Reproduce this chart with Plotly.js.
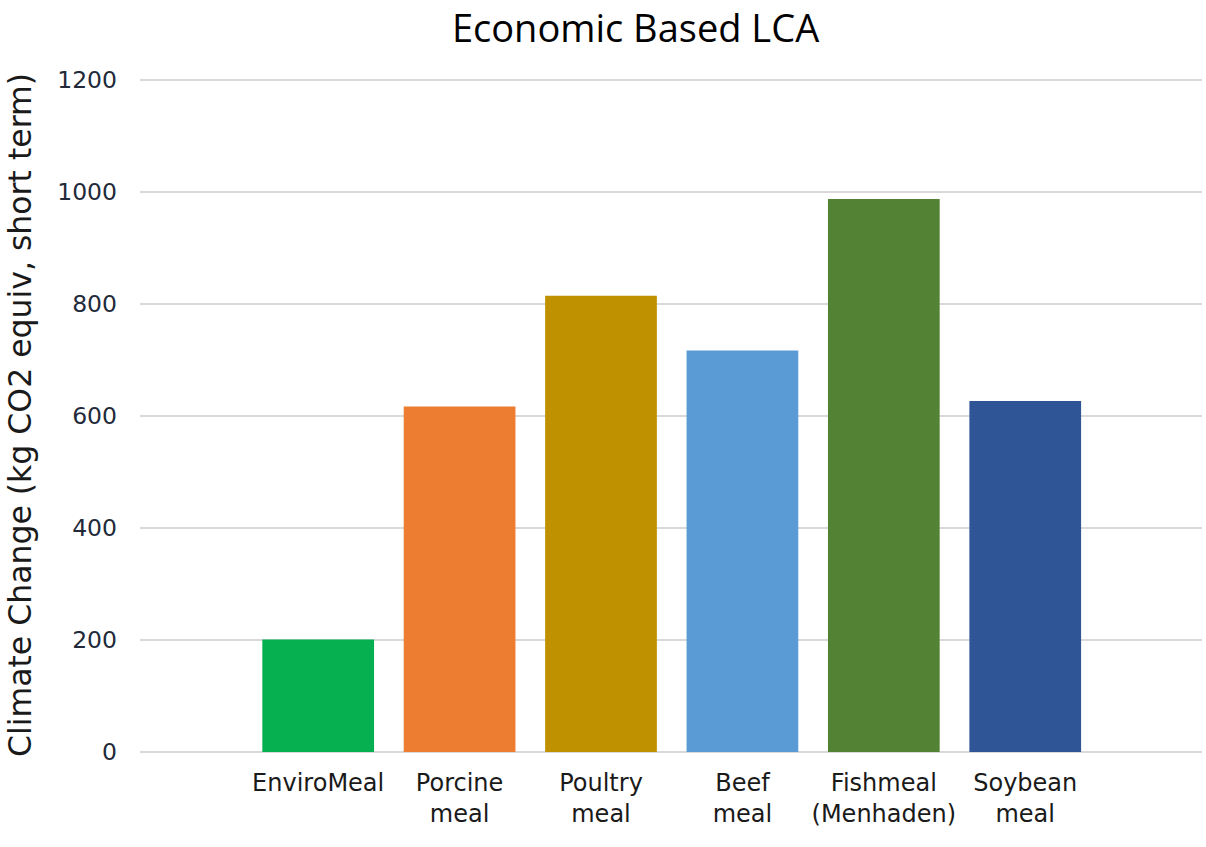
<!DOCTYPE html>
<html>
<head>
<meta charset="utf-8">
<script src="https://cdn.plot.ly/plotly-3.0.1.min.js"></script>
<style>html,body{margin:0;padding:0;background:#fff;}#chart{width:1206px;height:847px;}</style>
</head>
<body>
<div id="chart"></div>
<script>
const categories = ["EnviroMeal", "Porcine<br>meal", "Poultry<br>meal", "Beef<br>meal", "Fishmeal<br>(Menhaden)", "Soybean<br>meal"];
const values = [201, 617, 815, 717, 988, 627];
const barColors = ["#06B050", "#ED7D31", "#BF9000", "#5B9BD5", "#548235", "#2F5597"];
const yTicks = [0, 200, 400, 600, 800, 1000, 1200];

const trace = {
  type: "bar",
  x: categories,
  y: values,
  marker: {color: barColors},
  hoverinfo: "x+y"
};

const layout = {
  width: 1206,
  height: 847,
  margin: {l: 140, r: 4, t: 78, b: 95},
  paper_bgcolor: "#ffffff",
  plot_bgcolor: "#ffffff",
  showlegend: false,
  bargap: 0.21,
  title: {
    text: "Economic Based LCA",
    font: {family: "Open Sans", size: 38, color: "#000000"},
    x: 0.527, xref: "container", xanchor: "center",
    y: 0.982, yref: "container", yanchor: "top"
  },
  xaxis: {
    type: "category",
    range: [-1.26, 6.25],
    showgrid: false,
    zeroline: false,
    showline: false,
    ticks: "",
    ticklabelstandoff: 14,
    tickfont: {family: "DejaVu Sans", size: 24, color: "#1a1a1a"}
  },
  yaxis: {
    range: [0, 1204],
    tickvals: yTicks,
    ticktext: yTicks.map(String),
    showgrid: true,
    gridcolor: "#d9d9d9",
    gridwidth: 1.5,
    zeroline: true,
    zerolinecolor: "#d9d9d9",
    zerolinewidth: 1.5,
    showline: false,
    ticks: "",
    ticklabelstandoff: 22,
    tickfont: {family: "DejaVu Sans", size: 23.5, color: "#222a3a"},
    title: {
      text: "Climate Change (kg CO2 equiv, short term)",
      font: {family: "DejaVu Sans", size: 31.5, color: "#1a1a1a"},
      standoff: 16
    }
  }
};

Plotly.newPlot("chart", [trace], layout, {displayModeBar: false, staticPlot: true});
</script>
</body>
</html>
